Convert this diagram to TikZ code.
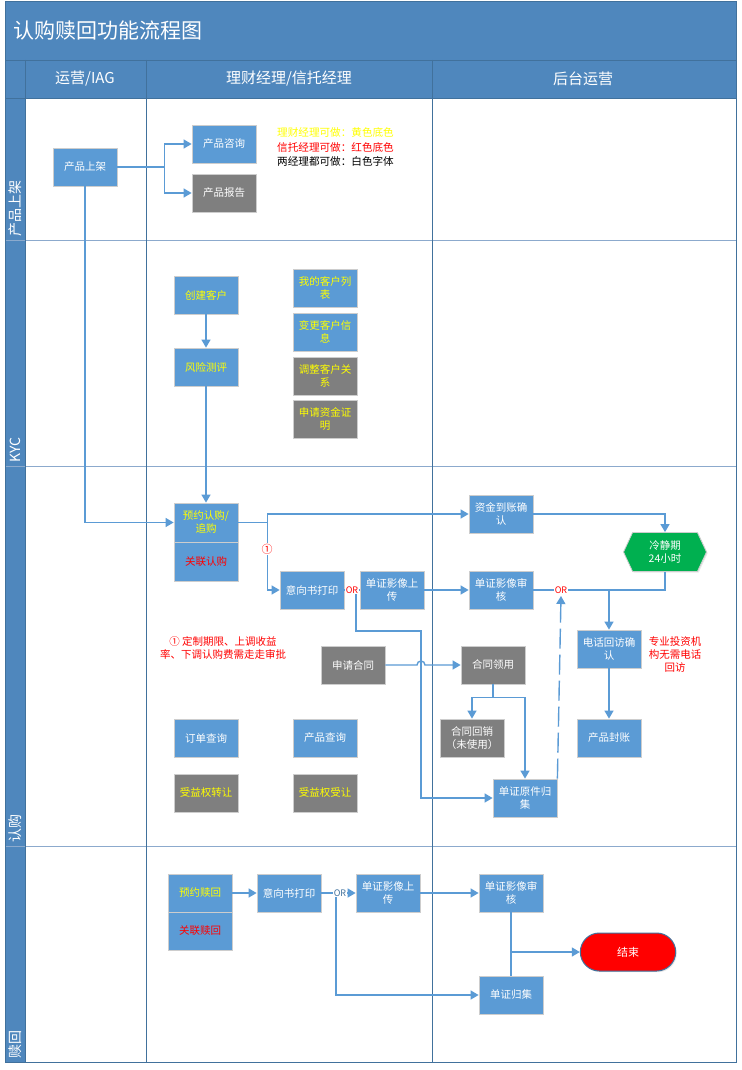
\documentclass[tikz,border=0pt]{standalone}
\usepackage{fontspec}
\setmainfont{Noto Sans CJK SC}
\usetikzlibrary{arrows.meta,shapes.symbols,shapes.misc,calc,shadows}

\definecolor{laneblue}{RGB}{79,135,189}
\definecolor{laneline}{RGB}{65,113,156}
\definecolor{rowline}{RGB}{140,170,205}
\definecolor{boxblue}{RGB}{91,155,213}
\definecolor{boxgray}{RGB}{127,127,127}
\definecolor{boxedge}{RGB}{205,205,205}
\definecolor{flowc}{RGB}{91,155,213}
\definecolor{hexgreen}{RGB}{0,176,80}
\definecolor{txtyellow}{RGB}{255,255,0}
\definecolor{txtred}{RGB}{255,0,0}

\tikzset{
  box/.style={draw=boxedge, line width=0.8pt, fill=boxblue, minimum width=64pt,
    minimum height=38pt, inner sep=1pt, text=white, align=center,
    font=\fontsize{10.5}{13}\selectfont,
    drop shadow={shadow xshift=1.2pt, shadow yshift=-1.2pt, opacity=0.18}},
  gbox/.style={box, fill=boxgray},
  ytext/.style={text=txtyellow},
  rtext/.style={text=txtred},
  flow/.style={draw=flowc, line width=1.4pt, -{Triangle[length=8pt,width=9pt]}},
  link/.style={draw=flowc, line width=1.4pt},
  orlab/.style={font=\fontsize{9}{10}\selectfont, text=txtred, inner sep=0.6pt, fill=white},
  lanelab/.style={rotate=90, anchor=west, text=white, font=\fontsize{14}{16}\selectfont, inner sep=0pt},
  headlab/.style={text=white, font=\fontsize{15}{17}\selectfont},
  note/.style={align=center, font=\fontsize{10.5}{13}\selectfont, text=txtred},
  legend/.style={anchor=west, font=\fontsize{10.6}{12}\selectfont, inner sep=0pt},
}

\begin{document}
\begin{tikzpicture}[x=1pt,y=-1pt]
\useasboundingbox (0,0) rectangle (741,1070);
\fill[white] (0,0) rectangle (741,1070);

% ---- swimlane frame ----
\fill[laneblue] (5,2) rectangle (736,98);
\fill[laneblue] (5,98) rectangle (25,1062);
\draw[laneline, line width=0.8pt] (5,60) -- (736,60);
\draw[laneline, line width=0.8pt] (5,98) -- (736,98);
\foreach \yy in {240,466,846}
  \draw[rowline, line width=1pt] (5,\yy) -- (736,\yy);
\foreach \xx in {25,146,432}
  \draw[laneline, line width=1pt] (\xx,60) -- (\xx,1062);
\draw[laneline, line width=1pt] (5,2) rectangle (736,1062);

\node[anchor=west, text=white, font=\fontsize{21}{25}\selectfont] (title) at (10,31) {认购赎回功能流程图};
\node[headlab] (hd1) at (85,79) {运营/IAG};
\node[headlab] (hd2) at (289,79) {理财经理/信托经理};
\node[headlab] (hd3) at (583,79) {后台运营};

\node[lanelab] (ln1) at (15,237) {产品上架};
\node[lanelab] (ln2) at (15,463) {KYC};
\node[lanelab] (ln3) at (15,843) {认购};
\node[lanelab] (ln4) at (15,1059) {赎回};

% ---- 产品上架 ----
\node[box] (sj) at (85,167) {产品上架};
\node[box] (zx) at (224,144) {产品咨询};
\node[gbox] (bg) at (224,193) {产品报告};
\node[legend, text=txtyellow] (lg1) at (277,132) {理财经理可做：黄色底色};
\node[legend, text=txtred] (lg2) at (277,147) {信托经理可做：红色底色};
\node[legend, text=black] (lg3) at (277,161) {两经理都可做：白色字体};

% ---- KYC ----
\node[box, ytext] (cj) at (206,295) {创建客户};
\node[box, ytext] (fx) at (206,367) {风险测评};
\node[box, ytext] (kl) at (325,288) {我的客户列\\表};
\node[box, ytext] (bk) at (325,332) {变更客户信\\息};
\node[gbox, ytext] (tz) at (325,376) {调整客户关\\系};
\node[gbox, ytext] (zm) at (325,419) {申请资金证\\明};

% ---- 认购 ----
\node[box, ytext, minimum height=39pt] (yy) at (206,522.5) {预约认购/\\追购};
\node[box, rtext, minimum height=39pt] (gl) at (206,561.5) {关联认购};
\node[box] (zj) at (501,514) {资金到账确\\认};
\node[signal, signal to=east and west, signal pointer angle=130, fill=hexgreen,
  draw=boxedge, line width=0.8pt, minimum width=83pt, minimum height=39pt,
  inner sep=1pt, text=white, align=center, font=\fontsize{10.5}{13}\selectfont,
  drop shadow={shadow xshift=1.2pt, shadow yshift=-1.2pt, opacity=0.18}] (lj) at (665,552) {冷静期\\24小时};
\node[box] (yx) at (312,590) {意向书打印};
\node[box] (sc) at (392,590) {单证影像上\\传};
\node[box] (sh) at (501,590) {单证影像审\\核};
\node[box] (dh) at (609,649) {电话回访确\\认};
\node[box] (fz) at (609,738) {产品封账};
\node[note] (nt1) at (223,648) {① 定制期限、上调收益\\率、下调认购费需走走审批};
\node[note] (nt2) at (675,655) {专业投资机\\构无需电话\\回访};
\node[gbox] (ht) at (353,665) {申请合同};
\node[gbox] (hl) at (493,665) {合同领用};
\node[gbox] (hx) at (472,738) {合同回销\\（未使用）};
\node[box] (yj) at (525,798) {单证原件归\\集};
\node[box] (dd) at (206,738) {订单查询};
\node[box] (cp) at (325,738) {产品查询};
\node[gbox, ytext] (zr) at (206,793) {受益权转让};
\node[gbox, ytext] (sr) at (325,793) {受益权受让};

% ---- 赎回 ----
\node[box, ytext] (sy) at (200,893) {预约赎回};
\node[box, rtext] (gs) at (200,931) {关联赎回};
\node[box] (yx2) at (289,893) {意向书打印};
\node[box] (sc2) at (388,893) {单证影像上\\传};
\node[box] (sh2) at (511,893) {单证影像审\\核};
\node[rounded rectangle, fill=txtred, draw=laneline, line width=1pt,
  minimum width=102pt, minimum height=38pt, text=white,
  font=\fontsize{11}{13}\selectfont,
  drop shadow={shadow xshift=1.2pt, shadow yshift=-1.2pt, opacity=0.18}] (js) at (628,952) {结束};
\node[box] (gj) at (511,995) {单证归集};

% ---- connectors: 产品上架 / KYC ----
\draw[flow] (sj.east) -- ++(47,0) |- (zx.west);
\draw[flow] (sj.east) -- ++(47,0) |- (bg.west);
\draw[flow] (sj.south) |- (yy.west);
\draw[flow] (cj) -- (fx);
\draw[flow] (fx) -- (yy);

% ---- connectors: 认购 ----
\draw[flow] (yy.east) -- ++(29,0) |- (zj.west);
\draw[flow] (yy.east) -- ++(29,0) |- (yx.west);
\node[orlab, font=\fontsize{11}{12}\selectfont] (c1) at (267,549) {①};
\draw[flow] (zj.east) -| (lj.north);
\draw[link] (lj.south) |- (sh.east);
\draw[flow] (dh.north |- sh.east) -- (dh.north);
\draw[flow] (dh) -- (fz);
\draw[flow] (sc) -- (sh);
\draw[link] (yx.east) -- (sc.west);
\coordinate (or1) at (356,590);
\coordinate (jx) at (421,631);
\draw[flow] (or1) |- (jx) |- (yj.west);
\node[orlab] (orA) at (352,590) {OR};
\draw[flow] (ht.east) -- ($(jx |- ht.east)+(-4,0)$) arc[start angle=180, end angle=360, radius=4] -- (hl.west);
\draw[flow] (hl.south) -- ++(0,13) -| (hx.north);
\draw[flow] (hl.south) -- ++(0,13) -| (yj.north);
\coordinate (or2) at (561,590);
\draw[flow, dash pattern=on 20pt off 6pt] (yj.north east) -- ($(or2)+(0,6)$);
\node[orlab] (orB) at (or2) {OR};

% ---- connectors: 赎回 ----
\draw[flow] (sy.east) -- (yx2.west);
\draw[flow] (yx2.east) -- (sc2.west);
\coordinate (or3) at (336,893);
\draw[flow] (or3) |- (gj.west);
\node[orlab, text=laneline] (orC) at (340,893) {OR};
\draw[flow] (sc2.east) -- (sh2.west);
\draw[link] (sh2.south) -- (gj.north);
\draw[flow] (sh2.south |- js.west) -- (js.west);
\end{tikzpicture}
\end{document}
